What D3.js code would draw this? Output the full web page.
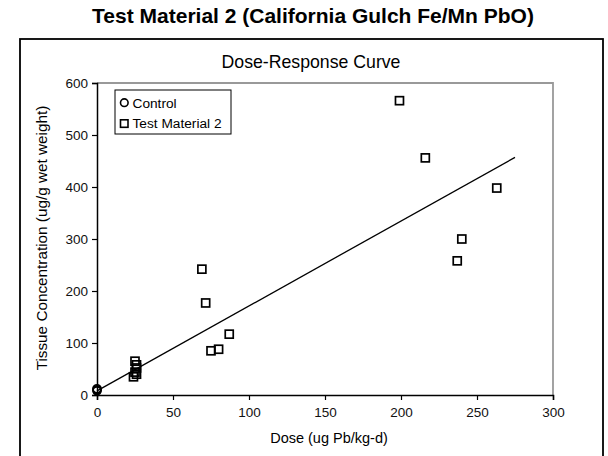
<!DOCTYPE html>
<html><head><meta charset="utf-8">
<script src="https://cdn.jsdelivr.net/npm/d3@7"></script>
<style>body{margin:0;background:#fff}svg{display:block}text{font-family:"Liberation Sans",Arial,sans-serif}</style>
</head><body><svg id="c" width="608" height="456"></svg>
<script>
const title = "Test Material 2 (California Gulch Fe/Mn PbO)";
const subtitle = "Dose-Response Curve";
const xLabel = "Dose (ug Pb/kg-d)";
const yLabel = "Tissue Concentration (ug/g wet weight)";
const xTicks = [0, 50, 100, 150, 200, 250, 300];
const yTicks = [0, 100, 200, 300, 400, 500, 600];
const controlDose = [0, 0, 0];
const controlConc = [8, 10, 12];
const testDose = [25, 26, 26, 25, 26, 24, 69, 71.5, 75, 80, 87, 199, 216, 237, 240, 263];
const testConc = [65, 58, 52, 44, 40, 35, 242, 177, 85, 88, 117, 566, 456, 258, 300, 398];
const fitDose = [0, 275];
const fitConc = [8, 457];

const svg = d3.select("#c");
const L = 97, R = 553, T = 83, B = 395;
const x = d3.scaleLinear().domain([0, 300]).range([L, R]);
const y = d3.scaleLinear().domain([0, 600]).range([B, T]);

// outer frame
svg.append("rect").attr("x", 20).attr("y", 39).attr("width", 583).attr("height", 440)
  .attr("fill", "none").attr("stroke", "#000").attr("stroke-width", 1.8);

svg.append("text").attr("x", 313).attr("y", 23).attr("text-anchor", "middle")
  .attr("font-size", 21).attr("font-weight", "bold").text(title);
svg.append("text").attr("x", 311).attr("y", 68).attr("text-anchor", "middle")
  .attr("font-size", 17.7).text(subtitle);

// plot border grey (top/right)
svg.append("path").attr("d", `M${L},${T}H${R}V${B}`).attr("fill", "none")
  .attr("stroke", "#999").attr("stroke-width", 1.8);

const xa = svg.append("g").attr("transform", `translate(0,${B})`)
  .call(d3.axisBottom(x).tickValues(xTicks).tickSize(5).tickPadding(7).tickFormat(d3.format("d")));
const ya = svg.append("g").attr("transform", `translate(${L},0)`)
  .call(d3.axisLeft(y).tickValues(yTicks).tickSize(5).tickPadding(4).tickFormat(d3.format("d")));
[xa, ya].forEach(a => {
  a.select(".domain").attr("stroke", "#000").attr("stroke-width", 1.5);
  a.selectAll(".tick line").attr("stroke", "#000").attr("stroke-width", 1.2);
  a.selectAll("text").attr("font-size", 13.5).attr("fill", "#111").attr("font-family", "Liberation Sans, Arial, sans-serif");
});

svg.append("text").attr("x", 329).attr("y", 443).attr("text-anchor", "middle")
  .attr("font-size", 14.5).text(xLabel);
svg.append("text").attr("transform", `translate(47,${(T + B) / 2 - 1}) rotate(-90)`)
  .attr("text-anchor", "middle").attr("font-size", 15.3).text(yLabel);

// fit line
svg.append("path").datum(fitDose.map((d, i) => [d, fitConc[i]]))
  .attr("d", d3.line().x(d => x(d[0])).y(d => y(d[1])))
  .attr("stroke", "#000").attr("stroke-width", 1.3).attr("fill", "none");

const sq = 8;
svg.append("g").selectAll("rect").data(testDose.map((d, i) => [d, testConc[i]])).join("rect")
  .attr("x", d => x(d[0]) - sq / 2).attr("y", d => y(d[1]) - sq / 2)
  .attr("width", sq).attr("height", sq).attr("fill", "none").attr("stroke", "#000").attr("stroke-width", 1.7);
svg.append("g").selectAll("circle").data(controlDose.map((d, i) => [d, controlConc[i]])).join("circle")
  .attr("cx", d => x(d[0])).attr("cy", d => y(d[1])).attr("r", 4)
  .attr("fill", "none").attr("stroke", "#000").attr("stroke-width", 1.7);

// legend
const lg = svg.append("g");
lg.append("rect").attr("x", 115).attr("y", 90).attr("width", 116).attr("height", 44)
  .attr("fill", "#fff").attr("stroke", "#000").attr("stroke-width", 1);
lg.append("circle").attr("cx", 124.3).attr("cy", 102.7).attr("r", 3.8)
  .attr("fill", "none").attr("stroke", "#000").attr("stroke-width", 1.6);
lg.append("rect").attr("x", 120.5).attr("y", 119.8).attr("width", 7.5).attr("height", 7.5)
  .attr("fill", "none").attr("stroke", "#000").attr("stroke-width", 1.6);
lg.append("text").attr("x", 132.5).attr("y", 107.5).attr("font-size", 13.7).text("Control");
lg.append("text").attr("x", 132.5).attr("y", 128).attr("font-size", 13.7).text("Test Material 2");
</script></body></html>
